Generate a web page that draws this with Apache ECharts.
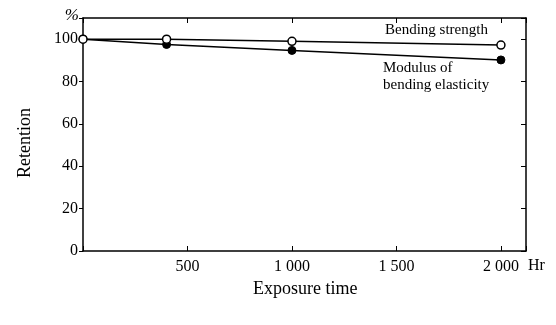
<!DOCTYPE html>
<html>
<head>
<meta charset="utf-8">
<script src="https://cdn.jsdelivr.net/npm/echarts@6/dist/echarts.min.js"></script>
<style>
  html, body { margin: 0; padding: 0; background: #fff; }
  #chart { width: 556px; height: 325px; }
</style>
</head>
<body>
<div id="chart"></div>
<script>
var hours = [0, 400, 1000, 2000];
var bendingStrength = [100, 100, 99, 97.2];
var bendingModulus = [100, 97.5, 94.7, 90.2];
var xTicks = [500, 1000, 1500, 2000];

var font = 'Liberation Serif';

function pairs(xs, ys) {
    var out = [];
    for (var i = 0; i < xs.length; i++) {
        out.push([xs[i], ys[i]]);
    }
    return out;
}

function fmtHr(v) {
    if (xTicks.indexOf(v) < 0) return '';
    return v >= 1000 ? Math.floor(v / 1000) + ' ' + String(v % 1000).padStart(3, '0') : String(v);
}

var chart = echarts.init(document.getElementById('chart'));

var axisLine = { show: true, onZero: false, lineStyle: { color: '#000', width: 1.5 } };

chart.setOption({
    animation: false,
    grid: { left: 83, right: 30, top: 18, bottom: 74 },
    xAxis: [{
        type: 'value',
        min: 0, max: 2120, interval: 500,
        axisLine: axisLine,
        axisTick: { show: true, inside: true, length: 5, lineStyle: { color: '#000' } },
        axisLabel: { color: '#000', fontFamily: font, fontSize: 16, margin: 8, formatter: fmtHr },
        splitLine: { show: false }
    }, {
        type: 'value', position: 'top',
        min: 0, max: 2120, interval: 500,
        axisLine: axisLine,
        axisTick: { show: true, inside: true, length: 5, lineStyle: { color: '#000' } },
        axisLabel: { show: false },
        splitLine: { show: false }
    }],
    yAxis: [{
        type: 'value',
        min: 0, max: 110, interval: 20,
        name: '%', nameLocation: 'end', nameGap: -6,
        nameTextStyle: { color: '#000', fontFamily: font, fontSize: 17, fontStyle: 'italic', align: 'right', padding: [0, 4, 0, 0] },
        axisLine: axisLine,
        axisTick: { show: true, inside: false, length: 4, lineStyle: { color: '#000' } },
        axisLabel: { color: '#000', fontFamily: font, fontSize: 16, margin: 5,
            formatter: function (v) { return v <= 100 ? String(v) : ''; } },
        splitLine: { show: false }
    }, {
        type: 'value', position: 'right',
        min: 0, max: 110, interval: 20,
        axisLine: axisLine,
        axisTick: { show: true, inside: true, length: 5, lineStyle: { color: '#000' } },
        axisLabel: { show: false },
        splitLine: { show: false }
    }],
    series: [{
        name: 'Bending strength',
        type: 'line',
        data: pairs(hours, bendingStrength),
        symbol: 'circle', symbolSize: 8,
        lineStyle: { color: '#000', width: 1.5 },
        itemStyle: { color: '#fff', borderColor: '#000', borderWidth: 1.5 },
        z: 3
    }, {
        name: 'Modulus of bending elasticity',
        type: 'line',
        data: pairs(hours, bendingModulus),
        symbol: 'circle', symbolSize: 8,
        lineStyle: { color: '#000', width: 1.5 },
        itemStyle: { color: '#000', borderColor: '#000' },
        z: 2
    }],
    graphic: [
        { type: 'text', left: 385, top: 23, style: { text: 'Bending strength', font: '15px "Liberation Serif"', fill: '#000' } },
        { type: 'text', left: 383, top: 60, style: { text: 'Modulus of\nbending elasticity', font: '15px "Liberation Serif"', fill: '#000', lineHeight: 17 } },
        { type: 'text', left: 528, top: 258, style: { text: 'Hr', font: '16px "Liberation Serif"', fill: '#000' } },
        { type: 'text', left: 253, top: 280, style: { text: 'Exposure time', font: '18px "Liberation Serif"', fill: '#000' } },
        { type: 'text', left: 16, top: 108, rotation: Math.PI / 2, style: { text: 'Retention', font: '18px "Liberation Serif"', fill: '#000' } }
    ]
});
</script>
</body>
</html>
